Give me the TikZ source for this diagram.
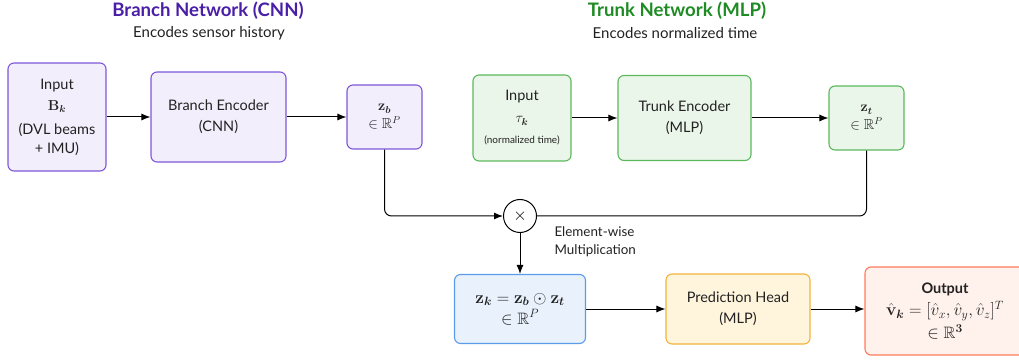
\documentclass[tikz,border=0pt]{standalone}
\usepackage{amsmath, amssymb}
\usepackage[no-math]{fontspec}
\setmainfont{Lato}
\usepackage{tikz}
\usetikzlibrary{arrows.meta}

\definecolor{branchtitle}{HTML}{4A1FA8}
\definecolor{branchline}{HTML}{7E57D8}
\definecolor{branchfill}{HTML}{F3EEFC}
\definecolor{trunktitle}{HTML}{1F8B24}
\definecolor{trunkline}{HTML}{5CB85C}
\definecolor{trunkfill}{HTML}{EBF6EA}
\definecolor{fuseline}{HTML}{5B9BEA}
\definecolor{fusefill}{HTML}{E8F1FC}
\definecolor{headline}{HTML}{F2B33D}
\definecolor{headfill}{HTML}{FFF4DC}
\definecolor{outline}{HTML}{FF7A5A}
\definecolor{outfill}{HTML}{FFF1EB}
\definecolor{txt}{HTML}{222222}

\newcommand{\boxmath}{\fontsize{14.5}{17}\selectfont}
\newcommand{\bigmath}{\fontsize{16.5}{20}\selectfont}

\tikzset{
  blk/.style={draw, rounded corners=6pt, line width=1.1pt, align=center,
    text=txt, inner sep=0pt, font=\fontsize{14.5}{21}\selectfont},
  branchbox/.style={blk, draw=branchline, fill=branchfill},
  trunkbox/.style={blk, draw=trunkline, fill=trunkfill},
  conn/.style={-{Latex[length=9pt,width=7pt]}, line width=1pt},
  wire/.style={line width=1pt, rounded corners=7pt},
  heading/.style={font=\bfseries\fontsize{18.6}{22}\selectfont},
  subheading/.style={text=txt, font=\fontsize{15}{18}\selectfont}
}

\begin{document}
\begin{tikzpicture}[x=1pt, y=-1pt]
  \useasboundingbox (0,0) rectangle (1019,363);

  % titles
  \node[heading, text=branchtitle] (btitle) at (208,11) {Branch Network (CNN)};
  \node[subheading] (bsub) at (209,33) {Encodes sensor history};
  \node[heading, text=trunktitle] (ttitle) at (677,11) {Trunk Network (MLP)};
  \node[subheading] (tsub) at (675,33) {Encodes normalized time};

  % branch row
  \node[branchbox, minimum width=98, minimum height=108] (inB) at (57,117)
    {Input\\[0pt] \boxmath$\mathbf{B}_{\boldsymbol{k}}$\\[3pt] (DVL beams\\[-2pt] + IMU)};
  \node[branchbox, minimum width=135, minimum height=90] (benc) at (218.5,117)
    {Branch Encoder\\ (CNN)};
  \node[branchbox, minimum width=75, minimum height=64] (zb) at (384.5,117)
    {\boxmath$\mathbf{z}_{\boldsymbol{b}}$\\[-3pt] \boxmath$\in\mathbb{R}^P$};

  % trunk row
  \node[trunkbox, minimum width=98, minimum height=86] (intau) at (522,118)
    {Input\\[1pt] \boxmath$\tau_{\boldsymbol{k}}$\\[0pt] \fontsize{10}{12}\selectfont(normalized time)};
  \node[trunkbox, minimum width=133, minimum height=85] (tenc) at (684.5,118)
    {Trunk Encoder\\ (MLP)};
  \node[trunkbox, minimum width=75, minimum height=64] (zt) at (866.5,118)
    {\boxmath$\mathbf{z}_{\boldsymbol{t}}$\\[-3pt] \boxmath$\in\mathbb{R}^P$};

  % fusion
  \node[draw, circle, line width=1pt, fill=white, minimum size=33, inner sep=0pt] (mult) at (520,216)
    {\fontsize{16}{16}\selectfont$\times$};
  \node[anchor=north west, align=left, text=txt, font=\fontsize{13.4}{18}\selectfont] (multlbl) at (551,223)
    {Element-wise\\ Multiplication};

  % bottom row
  \node[blk, draw=fuseline, fill=fusefill, minimum width=131, minimum height=69] (zk) at (520,309)
    {\bigmath$\mathbf{z}_{\boldsymbol{k}}=\mathbf{z}_{\boldsymbol{b}}\odot\mathbf{z}_{\boldsymbol{t}}$\\[0pt] \bigmath$\in\mathbb{R}^P$};
  \node[blk, draw=headline, fill=headfill, minimum width=144, minimum height=70] (head) at (738,309)
    {Prediction Head\\ (MLP)};
  \node[blk, draw=outline, fill=outfill, minimum width=160, minimum height=88] (out) at (945,311)
    {\textbf{Output}\\[1pt]
     \bigmath$\hat{\mathbf{v}}_{\boldsymbol{k}}=[\hat{v}_x,\hat{v}_y,\hat{v}_z]^T$\\[2pt]
     \bigmath$\in\mathbb{R}^{\mathbf{3}}$};

  % connectors
  \draw[conn] (inB) -- (benc);
  \draw[conn] (benc) -- (zb);
  \draw[conn] (intau) -- (tenc);
  \draw[conn] (tenc) -- (zt);
  \draw[wire, conn] (zb.south) |- (mult.west);
  \draw[wire] (zt.south) |- (mult.east);
  \draw[conn] (mult.south) -- (zk.north);
  \draw[conn] (zk) -- (head);
  \draw[conn] (head.east) -- (out.west |- head.east);
\end{tikzpicture}
\end{document}
